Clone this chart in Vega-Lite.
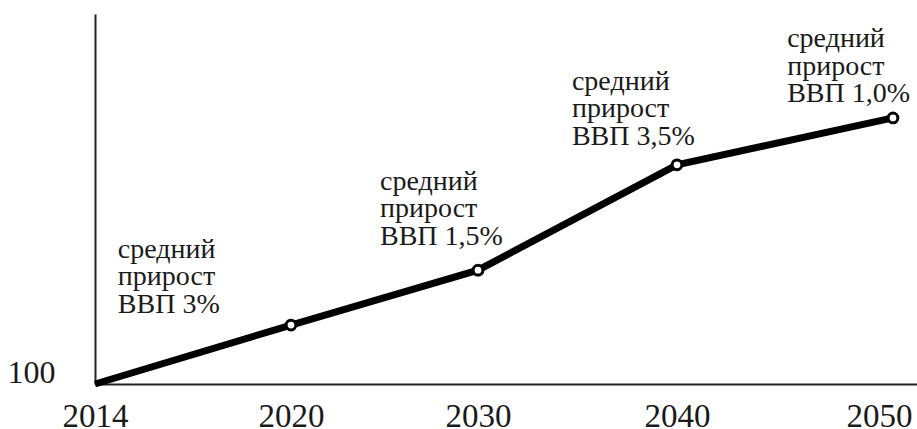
{
  "$schema": "https://vega.github.io/schema/vega-lite/v6.json",
  "width": 822,
  "height": 370,
  "autosize": "none",
  "padding": {"left": 95, "top": 14, "right": 0, "bottom": 45},
  "background": "white",
  "config": {
    "view": {"stroke": null},
    "axis": {
      "grid": false,
      "ticks": false,
      "tickSize": 0,
      "domainColor": "#222222",
      "domainWidth": 2,
      "labelFont": "Liberation Serif, DejaVu Serif",
      "labelFontSize": 33,
      "labelColor": "#1a1a1a",
      "title": null
    }
  },
  "datasets": {
    "series": [
      {"year": 2014, "value": 100},
      {"year": 2020, "value": 120.7},
      {"year": 2030, "value": 140},
      {"year": 2040, "value": 177},
      {"year": 2050, "value": 193.5}
    ],
    "notes": [
      {"x": 2014.7, "y": 144.3, "text": ["средний", "прирост", "ВВП 3%"]},
      {"x": 2024.76, "y": 168.2, "text": ["средний", "прирост", "ВВП 1,5%"]},
      {"x": 2034.72, "y": 203.3, "text": ["средний", "прирост", "ВВП 3,5%"]},
      {"x": 2045.1, "y": 218.4, "text": ["средний", "прирост", "ВВП 1,0%"]}
    ]
  },
  "layer": [
    {
      "data": {"name": "series"},
      "mark": {"type": "line", "color": "black", "strokeWidth": 7, "strokeCap": "butt"},
      "encoding": {
        "x": {
          "field": "year",
          "type": "quantitative",
          "scale": {
            "type": "linear",
            "domain": [2014, 2020, 2030, 2040, 2050, 2051.1],
            "range": [0, 196, 383, 582, 798, 822],
            "nice": false,
            "zero": false
          },
          "axis": {
            "values": [2014, 2020, 2030, 2040, 2050],
            "format": "d",
            "labelFlush": false,
            "labelPadding": 16,
            "labelOffset": {"condition": {"test": "datum.value == 2050", "value": -14}, "value": 0}
          }
        },
        "y": {
          "field": "value",
          "type": "quantitative",
          "scale": {"domain": [100, 230], "nice": false, "zero": false},
          "axis": {
            "values": [100],
            "labelFlush": false,
            "labelPadding": 40,
            "labelFontSize": 32,
            "labelBaseline": "alphabetic",
            "labelOffset": -2
          }
        }
      }
    },
    {
      "data": {"name": "series"},
      "transform": [{"filter": "datum.year > 2014"}],
      "mark": {
        "type": "point",
        "shape": "circle",
        "filled": true,
        "fill": "white",
        "stroke": "black",
        "strokeWidth": 3,
        "size": 95,
        "opacity": 1
      },
      "encoding": {
        "x": {"field": "year", "type": "quantitative"},
        "y": {"field": "value", "type": "quantitative"}
      }
    },
    {
      "data": {"name": "notes"},
      "mark": {
        "type": "text",
        "align": "left",
        "baseline": "alphabetic",
        "font": "Liberation Serif, DejaVu Serif",
        "fontSize": 28,
        "lineHeight": 27.5,
        "color": "#1a1a1a"
      },
      "encoding": {
        "x": {"field": "x", "type": "quantitative"},
        "y": {"field": "y", "type": "quantitative"},
        "text": {"field": "text"}
      }
    }
  ]
}
